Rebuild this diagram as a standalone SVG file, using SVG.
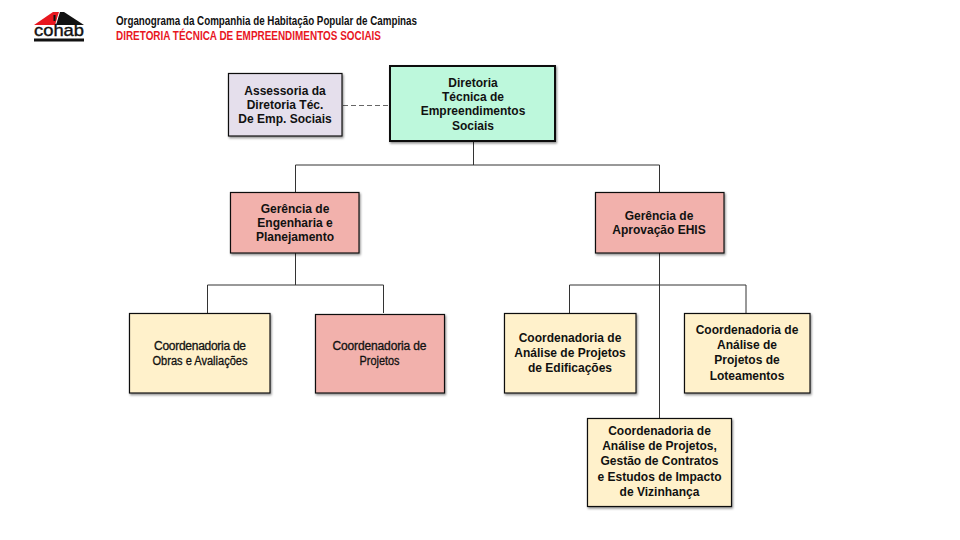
<svg xmlns="http://www.w3.org/2000/svg" width="960" height="540" viewBox="0 0 960 540">
<style>
text{font-family:"Liberation Sans",Arial,sans-serif;font-weight:700;fill:#111;}
.n text{font-size:12px;text-anchor:middle;}
.n text.t{font-weight:400;stroke:#111;stroke-width:.3;}
.n rect{stroke:#111;stroke-width:1.2;filter:url(#s);}
.g{fill:#f2b1ac;}.y{fill:#fff1cb;}.m{fill:#bdf8dc;}.l{fill:#e5dfec;}
.c{fill:none;stroke:#333;stroke-width:1;}
</style>
<defs><filter id="s" x="-10%" y="-10%" width="125%" height="125%"><feDropShadow dx="1" dy="1.5" stdDeviation="1.2" flood-color="#000" flood-opacity=".45"/></filter></defs>
<rect width="960" height="540" fill="#fff"/>
<g id="logo">
<polygon points="34,25 53,12 59,12 55,25" fill="#e8171f"/>
<polygon points="56,25 60,12 64,12 84,25" fill="#111"/>
<rect x="53.500" y="15" width="2" height="6" fill="#111"/>
<text x="59" y="36" text-anchor="middle" font-size="17" textLength="50" lengthAdjust="spacingAndGlyphs" style="font-weight:400;stroke:#111;stroke-width:.4">cohab</text>
<rect x="34" y="38.500" width="50" height="3" fill="#111"/>
</g>
<g id="header">
<text x="116" y="25" font-size="12" textLength="301" lengthAdjust="spacingAndGlyphs">Organograma da Companhia de Habitação Popular de Campinas</text>
<text x="116" y="40" font-size="12" textLength="265" lengthAdjust="spacingAndGlyphs" style="fill:#e8171f">DIRETORIA TÉCNICA DE EMPREENDIMENTOS SOCIAIS</text>
</g>
<g id="connectors">
<path class="c" d="M473.500 141V165M295.500 192V165H659.500V192M295.500 253V285M207.500 313V285H383.500V313M659.500 253V418M569.500 313V285H746V313"/>
<path class="c" d="M343 105.500H390" stroke-dasharray="5 3" style="stroke:#666"/>
</g>
<g class="n" id="assessoria"><rect class="l" x="228.500" y="73.500" width="113.500" height="62.500"/><text x="285" y="95">Assessoria da</text><text x="285" y="109">Diretoria Téc.</text><text x="285" y="123">De Emp. Sociais</text></g>
<g class="n" id="diretoria"><rect class="m" x="390" y="66" width="165" height="75" style="stroke-width:2"/><text x="473" y="87">Diretoria</text><text x="473" y="101">Técnica de</text><text x="473" y="115">Empreendimentos</text><text x="473" y="130">Sociais</text></g>
<g class="n" id="ger-eng"><rect class="g" x="230.500" y="192.500" width="128.500" height="60.500"/><text x="295" y="213">Gerência de</text><text x="295" y="227">Engenharia e</text><text x="295" y="241">Planejamento</text></g>
<g class="n" id="ger-aprov"><rect class="g" x="595.500" y="192.500" width="128.500" height="60.500"/><text x="659" y="220">Gerência de</text><text x="659" y="234">Aprovação EHIS</text></g>
<g class="n" id="coord-obras"><rect class="y" x="129.500" y="313.500" width="140.500" height="79.500"/><text class="t" x="200" y="350" textLength="92" lengthAdjust="spacing">Coordenadoria de</text><text class="t" x="200" y="365" textLength="95" lengthAdjust="spacingAndGlyphs">Obras e Avaliações</text></g>
<g class="n" id="coord-projetos"><rect class="g" x="315.500" y="314.500" width="129" height="78.500"/><text class="t" x="379.500" y="350" textLength="94" lengthAdjust="spacing">Coordenadoria de</text><text class="t" x="379.500" y="365" textLength="40" lengthAdjust="spacingAndGlyphs">Projetos</text></g>
<g class="n" id="coord-edif"><rect class="y" x="504.500" y="313.500" width="131.500" height="79.500"/><text x="570" y="342">Coordenadoria de</text><text x="570" y="357">Análise de Projetos</text><text x="570" y="372">de Edificações</text></g>
<g class="n" id="coord-lote"><rect class="y" x="684.500" y="313.500" width="125.500" height="79.500"/><text x="747" y="334">Coordenadoria de</text><text x="747" y="349">Análise de</text><text x="747" y="364">Projetos de</text><text x="747" y="380">Loteamentos</text></g>
<g class="n" id="coord-impacto"><rect class="y" x="587.500" y="418.500" width="144" height="88"/><text x="659.500" y="435">Coordenadoria de</text><text x="659.500" y="450">Análise de Projetos,</text><text x="659.500" y="465">Gestão de Contratos</text><text x="659.500" y="481">e Estudos de Impacto</text><text x="659.500" y="496">de Vizinhança</text></g>
</svg>
